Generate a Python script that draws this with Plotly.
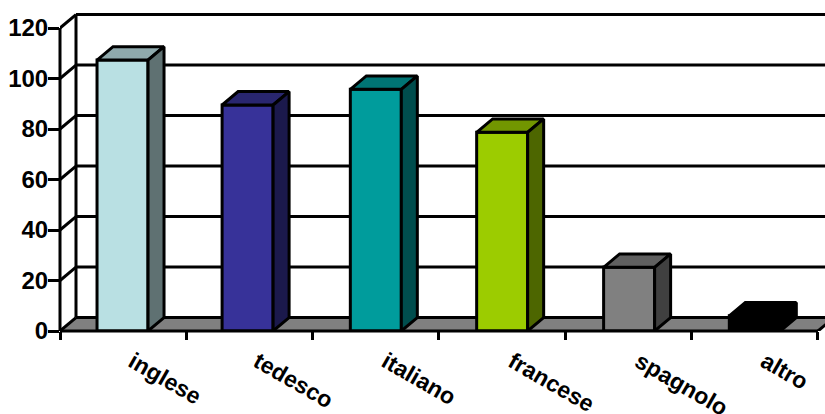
import plotly.graph_objects as go

categories = ["inglese", "tedesco", "italiano", "francese", "spagnolo", "altro"]
positions = [-0.005, 0.985, 2.0, 3.0, 4.005, 5.0]
values = [107.3, 89.5, 95.7, 78.7, 25.2, 6]
front_colors = ["#B9E0E3", "#373299", "#009C9C", "#9CCC00", "#808080", "#000000"]
top_colors = ["#8FA9AC", "#29266F", "#007474", "#729600", "#606060", "#000000"]
side_colors = ["#5F7172", "#1B194C", "#004D4D", "#4D6600", "#404040", "#000000"]
y_ticks = [0, 20, 40, 60, 80, 100, 120]

PX_X = 126.33
PX_Y = 2.525
DX = 16 / PX_X
DY = 13.4 / PX_Y
BAR_W = 51 / PX_X
LABEL_SHIFT = 10 / PX_X
LW = 3
X0, X1 = -0.5, 5.5
W, H = 825, 414
ML, MB = 60, 83
x_top = (W - ML) / PX_X - 0.5
y_top = (H - MB) / PX_Y

fig = go.Figure()
fig.add_trace(go.Bar(
    x=positions, y=values, width=BAR_W,
    marker=dict(color=front_colors, line=dict(color="black", width=LW)),
    showlegend=False, hoverinfo="x+y",
))
for i, v in enumerate(values):
    l, r = positions[i] - BAR_W / 2, positions[i] + BAR_W / 2
    fig.add_trace(go.Scatter(
        x=[l, r, r + DX, l + DX, l], y=[v, v, v + DY, v + DY, v],
        mode="lines", fill="toself", fillcolor=top_colors[i],
        line=dict(color="black", width=LW), showlegend=False, hoverinfo="skip"))
    fig.add_trace(go.Scatter(
        x=[r, r + DX, r + DX, r, r], y=[0, DY, v + DY, v, 0],
        mode="lines", fill="toself", fillcolor=side_colors[i],
        line=dict(color="black", width=LW), showlegend=False, hoverinfo="skip"))

shapes = []
line = dict(color="black", width=LW)
# floor
shapes.append(dict(type="path", layer="below", xref="x", yref="y",
                   path=f"M {X0},0 L {X1},0 L {X1 + DX},{DY} L {X0 + DX},{DY} Z",
                   fillcolor="#808080", line=dict(width=0)))
# back wall grid and side wall diagonals
for t in y_ticks:
    shapes.append(dict(type="line", layer="below", xref="x", yref="y",
                       x0=X0 + DX, x1=x_top, y0=t + DY, y1=t + DY, line=line))
    shapes.append(dict(type="line", layer="below", xref="x", yref="y",
                       x0=X0, x1=X0 + DX, y0=t, y1=t + DY, line=line))
shapes.append(dict(type="line", layer="below", xref="x", yref="y",
                   x0=X0 + DX, x1=X0 + DX, y0=DY, y1=y_ticks[-1] + DY, line=line))
shapes.append(dict(type="line", layer="below", xref="x", yref="y",
                   x0=X1, x1=X1 + DX, y0=0, y1=DY, line=line))
# axis lines on the plot edge
shapes.append(dict(type="line", layer="above", xref="x", yref="paper",
                   x0=X0, x1=X1, y0=0, y1=0, line=line))
shapes.append(dict(type="line", layer="above", xref="paper", yref="y",
                   x0=0, x1=0, y0=0, y1=y_ticks[-1], line=line))

fig.update_layout(
    width=W, height=H, autosize=False,
    margin=dict(l=ML, r=0, t=0, b=MB, pad=0),
    paper_bgcolor="white", plot_bgcolor="white",
    font=dict(family="Liberation Sans", color="black"),
    shapes=shapes, showlegend=False,
    xaxis=dict(
        range=[X0, x_top], tickmode="array",
        tickvals=[p + LABEL_SHIFT for p in positions], ticktext=categories,
        tickangle=30, ticks="", showgrid=False, showline=False, zeroline=False,
        automargin=False,
        tickfont=dict(family="Liberation Sans", size=23, weight="bold", color="black"),
        ticklabelstandoff=12,
        minor=dict(tickmode="array", tickvals=[i - 0.5 for i in range(7)], ticks="outside",
                   ticklen=8, tickwidth=LW, tickcolor="black", showgrid=False),
    ),
    yaxis=dict(
        range=[0, y_top], tickmode="array", tickvals=y_ticks, ticks="outside",
        ticklen=11, tickwidth=LW, tickcolor="black", showgrid=False, showline=False,
        zeroline=False, ticklabelstandoff=-5, automargin=False,
        tickfont=dict(family="Liberation Sans", size=24, weight="bold", color="black"),
    ),
)
fig.write_html("out.html", config={"displayModeBar": False},
               post_script="document.body.style.margin='0';document.documentElement.style.overflow='hidden';")
